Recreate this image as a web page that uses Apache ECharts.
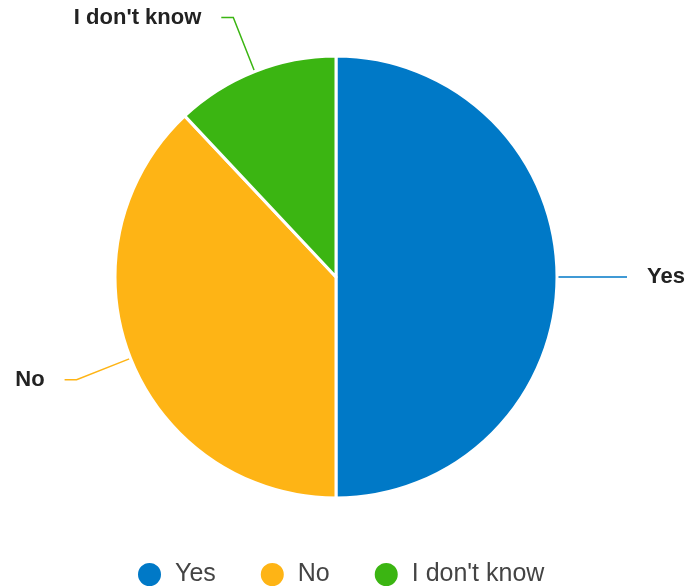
<!DOCTYPE html>
<html>
<head>
<meta charset="utf-8">
<script src="https://cdn.jsdelivr.net/npm/echarts@6/dist/echarts.min.js"></script>
<style>
  html, body { margin: 0; padding: 0; background: #fff; }
  #main { width: 687px; height: 586px; }
</style>
</head>
<body>
<div id="main"></div>
<script>
// answers and their shares (%)
const answers = ['Yes', 'No', "I don't know"];
const shares = [50, 38, 12];
const colors = ['#0079C7', '#FEB415', '#3BB512'];

const chart = echarts.init(document.getElementById('main'), null, { renderer: 'canvas' });

const data = [];
for (let i = 0; i < answers.length; i++) {
  data.push({ name: answers[i], value: shares[i], itemStyle: { color: colors[i] } });
}

const option = {
  animation: false,
  legend: {
    data: answers,
    left: 131,
    top: 556,
    icon: 'circle',
    itemWidth: 25,
    itemHeight: 25,
    itemGap: 43,
    textStyle: { fontFamily: 'Liberation Sans', fontSize: 25, color: '#444', padding: [0, 0, 0, 8] }
  },
  series: [{
    type: 'pie',
    center: [336, 277],
    radius: 221,
    startAngle: 90,
    clockwise: true,
    data: data,
    itemStyle: { borderColor: '#fff', borderWidth: 3 },
    label: {
      show: true,
      formatter: '{b}',
      fontFamily: 'Liberation Sans',
      fontWeight: 'bold',
      fontSize: 22,
      color: '#222',
      overflow: 'none',
      distanceToLabelLine: 20
    },
    labelLine: {
      show: true,
      length: 58,
      length2: 12,
      lineStyle: { width: 1.5 }
    },
    emphasis: { disabled: true }
  }]
};

chart.setOption(option);
</script>
</body>
</html>
